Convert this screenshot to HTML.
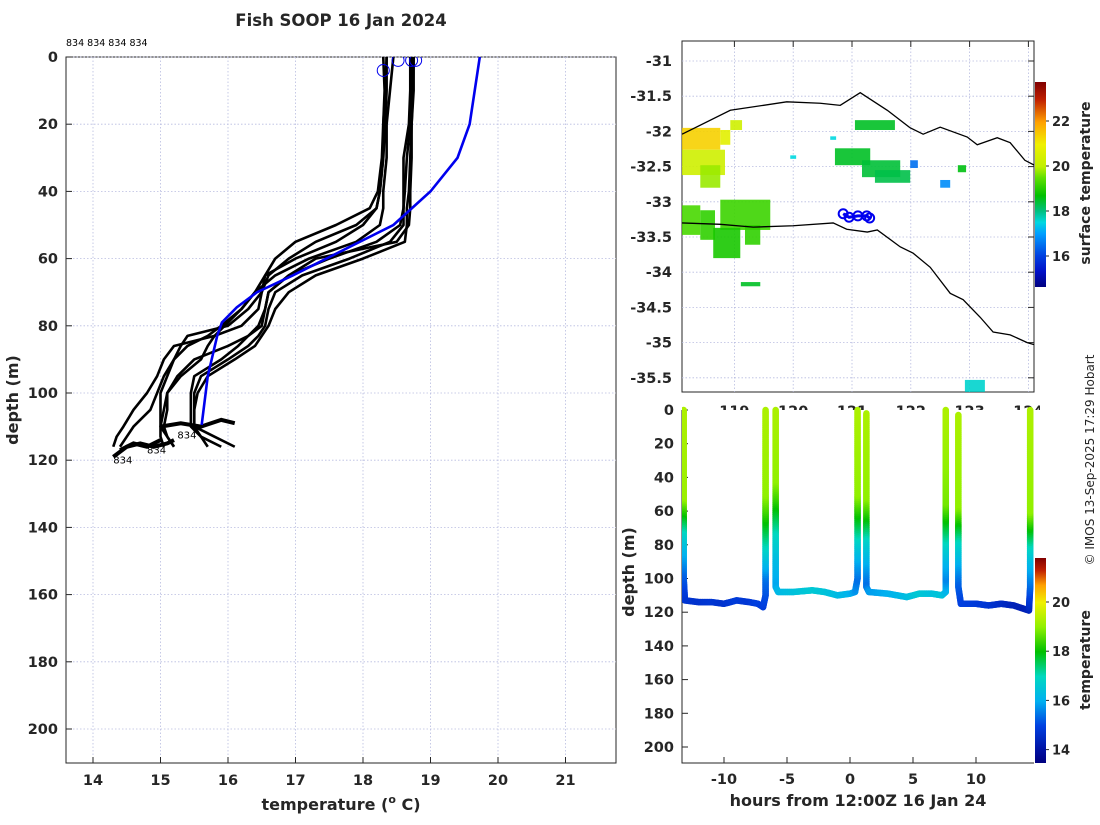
<!DOCTYPE html>
<html><head><meta charset="utf-8"><style>
body{margin:0;background:#fff}
svg text{font-family:"DejaVu Sans","Liberation Sans",sans-serif;fill:#262626}
.tk{font-size:14.5px;font-weight:bold}
</style></head><body>
<svg id="s" width="1100" height="820" viewBox="0 0 1100 820" xmlns="http://www.w3.org/2000/svg">
<defs>
<linearGradient id="cb1" x1="0" y1="1" x2="0" y2="0"></linearGradient>
<linearGradient id="cb2" x1="0" y1="1" x2="0" y2="0"></linearGradient>
<clipPath id="cL"><rect x="66" y="57" width="550" height="706"/></clipPath>
<clipPath id="cM"><rect x="682" y="41" width="352" height="351"/></clipPath>
<clipPath id="cB"><rect x="682" y="405" width="352" height="358"/></clipPath>
<clipPath id="cMl"><rect x="700" y="392" width="340" height="18"/></clipPath>
</defs>
<text x="341" y="26" text-anchor="middle" style="font-size:16.5px;font-weight:bold">Fish SOOP 16 Jan 2024</text>
<text x="66" y="46" style="font-size:9.5px;fill:#000">834 834 834 834</text>
<g id="left"></g><g id="map"></g><g id="bot"></g>
<text transform="translate(18,400) rotate(-90)" text-anchor="middle" style="font-size:16px;font-weight:bold">depth (m)</text>
<text x="341" y="810" text-anchor="middle" style="font-size:16px;font-weight:bold">temperature (<tspan dy="-7" style="font-size:11px">o</tspan><tspan dy="7"> C)</tspan></text>
<text transform="translate(634,572) rotate(-90)" text-anchor="middle" style="font-size:16px;font-weight:bold">depth (m)</text>
<text x="858" y="806" text-anchor="middle" style="font-size:16px;font-weight:bold">hours from 12:00Z 16 Jan 24</text>
<text transform="translate(1090,183) rotate(-90)" text-anchor="middle" style="font-size:14px;font-weight:bold">surface temperature</text>
<text transform="translate(1090,660) rotate(-90)" text-anchor="middle" style="font-size:14px;font-weight:bold">temperature</text>
<text transform="translate(1094,460) rotate(-90)" text-anchor="middle" style="font-size:12px">© IMOS 13-Sep-2025 17:29 Hobart</text>
</svg>
<script>
// ---- left panel data ----
const tempTicks=[14,15,16,17,18,19,20,21];
const depthTicks=[0,20,40,60,80,100,120,140,160,180,200];
const profDepth=[0,10,20,30,40,45,50,55,60,65,70,75,80,83,86,90,95,100,105,110,113,116];
const profTemps=[
[18.3,18.32,18.3,18.28,18.22,18.1,17.6,17.0,16.7,16.55,16.5,16.45,16.2,15.8,15.2,15.05,14.95,14.8,14.6,14.45,14.35,14.3],
[18.35,18.35,18.33,18.3,18.25,18.2,17.9,17.3,16.9,16.6,16.5,16.3,16.0,15.4,15.3,15.2,15.05,14.95,14.85,14.6,14.5,14.4],
[18.45,18.4,18.35,18.35,18.3,18.3,18.25,17.9,17.2,16.7,16.4,16.2,15.95,15.8,15.7,15.6,15.3,15.1,15.05,15.0,15.0,15.05],
[18.7,18.7,18.68,18.6,18.6,18.6,18.55,18.2,17.5,16.9,16.6,16.55,16.5,16.3,16.15,15.9,15.5,15.45,15.45,15.45,15.6,15.9],
[18.72,18.72,18.7,18.65,18.62,18.6,18.6,18.4,17.8,17.1,16.7,16.6,16.55,16.45,16.3,16.0,15.6,15.5,15.5,15.5,15.6,15.7],
[18.75,18.75,18.72,18.72,18.7,18.7,18.68,18.5,17.3,16.9,16.6,16.55,16.45,16.3,16.0,15.5,15.25,15.1,15.1,15.05,15.1,15.2],
[18.35,18.33,18.3,18.3,18.25,18.2,18.0,17.6,17.0,16.55,16.4,16.2,15.9,15.7,15.4,15.2,15.1,15.0,15.0,15.0,15.1,15.2],
[18.75,18.74,18.72,18.7,18.68,18.65,18.65,18.62,18.0,17.3,16.9,16.7,16.6,16.5,16.4,16.1,15.7,15.55,15.5,15.5,15.8,16.1]];
const trailTemps=[[14.3,14.5,14.7,14.9,15.1,15.2],[15.0,15.3,15.6,15.9,16.1],[14.4,14.6,14.8,15.0]];
const trailDepths=[[119,116,115,116,115,114],[110,109,110,108,109],[117,115,116,114]];
const climTemp=[19.73,19.58,19.4,19.0,18.45,16.96,16.43,16.13,15.91,15.84,15.7,15.61];
const climDepth=[0,20,30,40,50,65,70,74.5,79,83,95,109.5];
const startTemps=[18.3,18.52,18.72,18.78];
const startDepths=[4,1,1,1];
// ---- map data ----
const lonTicks=[119,120,121,122,123,124];
const latTicks=[-31,-31.5,-32,-32.5,-33,-33.5,-34,-34.5,-35,-35.5];
const sstTicks=[16,18,20,22];
const coastNLon=[118.11,118.93,119.89,120.46,120.8,121.14,121.6,121.99,122.21,122.5,122.96,123.13,123.47,123.69,123.94,124.1];
const coastNLat=[-32.04,-31.7,-31.58,-31.6,-31.63,-31.45,-31.7,-31.95,-32.04,-31.94,-32.08,-32.19,-32.09,-32.16,-32.41,-32.48];
const coastSLon=[118.11,118.76,119.32,120.0,120.68,120.91,121.26,121.43,121.82,122.04,122.33,122.67,122.89,123.18,123.4,123.69,123.98,124.1];
const coastSLat=[-33.3,-33.32,-33.36,-33.34,-33.3,-33.39,-33.43,-33.4,-33.64,-33.73,-33.93,-34.3,-34.39,-34.64,-34.85,-34.89,-35.0,-35.03];
const sstLon0=[118.11,118.76,118.11,118.42,118.93,118.11,118.42,118.76,118.64,119.18,120.71,121.17,121.39,121.05,121.99,122.5,122.8,122.92,119.11,119.95,120.63];
const sstLon1=[118.76,118.93,118.84,118.76,119.13,118.42,118.67,119.61,119.1,119.44,121.31,121.82,121.99,121.73,122.12,122.67,122.94,123.26,119.44,120.05,120.73];
const sstLat0=[-31.95,-31.98,-32.26,-32.48,-31.84,-33.05,-33.12,-32.97,-33.37,-33.33,-32.24,-32.41,-32.55,-31.84,-32.41,-32.69,-32.48,-35.53,-34.14,-32.34,-32.07];
const sstLat1=[-32.26,-32.19,-32.62,-32.8,-31.98,-33.47,-33.54,-33.4,-33.8,-33.61,-32.48,-32.65,-32.73,-31.98,-32.52,-32.8,-32.58,-35.7,-34.2,-32.39,-32.12];
const sstVal=[21.4,20.7,20.3,19.8,20.3,19.3,19.1,19.2,18.9,19.1,18.5,18.4,18.3,18.5,16.5,16.8,18.6,17.6,18.5,17.5,17.5];
const floatLon=[120.85,120.95,121.1,121.25,121.3];
const floatLat=[-33.17,-33.22,-33.2,-33.2,-33.23];
// ---- bottom panel data ----
const hourTicks=[-10,-5,0,5,10];
const bDepthTicks=[0,20,40,60,80,100,120,140,160,180,200];
const bcbTicks=[14,16,18,20];
const yoTime=[
[-13.2,-13.2,-13.2,-13.2,-13.2,-13.2,-13.1,-12,-11,-10,-9,-8,-7.3,-6.9,-6.7,-6.7,-6.7,-6.7,-6.7,-6.7,-6.7],
[-5.9,-5.9,-5.9,-5.9,-5.9,-5.9,-5.7,-4.5,-3,-2,-1,0,0.4,0.6,0.6,0.6,0.6,0.6,0.6,0.6],
[1.3,1.3,1.3,1.3,1.3,1.3,1.5,3,4.5,5.5,6.5,7.3,7.6,7.6,7.6,7.6,7.6,7.6,7.6],
[8.6,8.6,8.6,8.6,8.6,8.6,8.8,10,11,12,13,13.8,14.2,14.3,14.3,14.3,14.3,14.3,14.3]];
const yoDepth=[
[0,55,62,75,85,100,113,114,114,115,113,114,115,117,110,100,90,80,60,50,0],
[0,45,55,75,90,105,108,108,107,108,110,109,108,100,90,80,70,60,50,0],
[2,55,65,80,95,105,108,109,111,109,109,110,108,100,90,80,65,55,0],
[3,60,70,80,95,105,115,115,116,115,116,118,119,105,90,80,70,60,0]];
const yoTemp=[
[19.3,19.1,18.3,16.9,16.2,15.3,14.8,14.7,14.8,14.7,14.9,14.8,15.0,14.9,15.1,15.4,16.2,17.0,18.4,19.0,19.3],
[19.3,19.0,18.4,17.0,16.3,15.9,16.2,16.4,16.6,16.5,16.3,16.1,15.8,15.4,15.9,16.6,17.4,18.2,19.0,19.3],
[19.3,19.0,18.2,16.8,15.9,15.4,15.8,16.0,16.3,16.6,16.4,16.5,16.2,15.6,16.1,16.8,18.0,18.8,19.3],
[19.3,19.0,18.0,17.0,15.9,15.3,15.0,14.9,14.8,14.6,14.4,14.3,14.4,15.3,16.2,17.0,18.0,19.0,19.3]];

const NS="http://www.w3.org/2000/svg";
function mk(p,tag,at,name,txt){const e=document.createElementNS(NS,tag);for(const k in at)e.setAttribute(k,at[k]);


if(txt!==undefined)e.textContent=txt;p.appendChild(e);return e;}
const sStops=[[14.6,[0,0,127]],[15.3,[0,16,200]],[16,[0,64,224]],[17,[0,160,255]],[17.5,[0,216,224]],[18,[0,192,128]],[18.7,[0,192,0]],[19.5,[96,224,0]],[20,[192,240,0]],[21,[240,240,0]],[22,[255,160,0]],[23,[192,32,0]],[23.8,[128,0,0]]];
const bStops=[[13.5,[0,0,127]],[14,[0,16,160]],[15,[0,64,224]],[16,[0,176,240]],[17,[0,216,192]],[18,[0,192,0]],[19,[144,240,0]],[20,[240,240,0]],[20.7,[255,160,0]],[21.3,[192,32,0]],[21.8,[128,0,0]]];
function cm(st,t){if(t<=st[0][0])return 'rgb('+st[0][1].join(',')+')';for(let i=1;i<st.length;i++){if(t<=st[i][0]){const a=st[i-1],b=st[i],u=(t-a[0])/(b[0]-a[0]);return 'rgb('+a[1].map((v,j)=>Math.round(v+(b[1][j]-v)*u)).join(',')+')';}}return 'rgb(128,0,0)';}
function fillGrad(id,st){const g=document.getElementById(id);const lo=st[0][0],hi=st[st.length-1][0];st.forEach(s=>{const e=document.createElementNS(NS,'stop');e.setAttribute('offset',(s[0]-lo)/(hi-lo));e.setAttribute('stop-color','rgb('+s[1].join(',')+')');g.appendChild(e);});}
fillGrad('cb1',sStops);fillGrad('cb2',bStops);
const grid={stroke:'#b8bce0','stroke-width':0.8,'stroke-dasharray':'1.5,2'};

// ---------- LEFT ----------
const L=document.getElementById('left');
const xT=t=>93+(t-14)*67.5, yD=d=>57+d*3.36;
mk(L,'rect',{x:66,y:57,width:550,height:706,fill:'#fff',stroke:'#262626','stroke-width':1},'left-plot-area');
tempTicks.forEach(t=>{mk(L,'line',Object.assign({x1:xT(t),x2:xT(t),y1:57,y2:763},grid),'x-gridline');
mk(L,'line',{x1:xT(t),x2:xT(t),y1:763,y2:757,stroke:'#262626'},'x-tick');
mk(L,'text',{x:xT(t),y:785,'text-anchor':'middle',class:'tk'},'x-tick-label',String(t));});
depthTicks.forEach(d=>{mk(L,'line',Object.assign({x1:66,x2:616,y1:yD(d),y2:yD(d)},grid),'y-gridline');
mk(L,'line',{x1:66,x2:72,y1:yD(d),y2:yD(d),stroke:'#262626'},'y-tick');
mk(L,'text',{x:58,y:yD(d)+5,'text-anchor':'end',class:'tk'},'y-tick-label',String(d));});
const LG=mk(L,'g',{'clip-path':'url(#cL)'},'profiles');
profTemps.forEach((pt,i)=>{mk(LG,'polyline',{points:pt.map((t,j)=>xT(t)+','+yD(profDepth[j])).join(' '),fill:'none',stroke:'#000','stroke-width':2.6,'stroke-linejoin':'round'},'profile-line-'+(i+1));});
trailTemps.forEach((tt,i)=>{mk(LG,'polyline',{points:tt.map((t,j)=>xT(t)+','+yD(trailDepths[i][j])).join(' '),fill:'none',stroke:'#000','stroke-width':4},'bottom-trail');});
mk(LG,'polyline',{points:climTemp.map((t,j)=>xT(t)+','+yD(climDepth[j])).join(' '),fill:'none',stroke:'#0000ee','stroke-width':2.6},'climatology-line');
startTemps.forEach((t,i)=>mk(LG,'circle',{cx:xT(t),cy:yD(startDepths[i]),r:6,fill:'none',stroke:'#0000ee','stroke-width':1},'profile-start-marker'));
[[14.3,121],[14.8,118],[15.25,113.5]].forEach(p=>mk(LG,'text',{x:xT(p[0]),y:yD(p[1]),style:'font-size:10px;fill:#000'},'profile-label','834'));

// ---------- MAP ----------
const M=document.getElementById('map');
const xL=l=>852+(l-121)*58.8, yL=a=>61+(-31-a)*70.4;
mk(M,'rect',{x:682,y:41,width:352,height:351,fill:'#fff',stroke:'#262626'},'map-area');
lonTicks.forEach(l=>{mk(M,'line',Object.assign({x1:xL(l),x2:xL(l),y1:41,y2:392},grid),'lon-gridline');
mk(M,'line',{x1:xL(l),x2:xL(l),y1:41,y2:47,stroke:'#262626'},'lon-tick');});
const ML=mk(M,'g',{'clip-path':'url(#cMl)'},'lon-labels');
lonTicks.forEach(l=>mk(ML,'text',{x:xL(l),y:416,'text-anchor':'middle',class:'tk'},'lon-tick-label',String(l)));
latTicks.forEach(a=>{mk(M,'line',Object.assign({x1:682,x2:1034,y1:yL(a),y2:yL(a)},grid),'lat-gridline');
mk(M,'line',{x1:1028,x2:1034,y1:yL(a),y2:yL(a),stroke:'#262626'},'lat-tick');
mk(M,'text',{x:672,y:yL(a)+5,'text-anchor':'end',class:'tk'},'lat-tick-label',String(a));});
const MG=mk(M,'g',{'clip-path':'url(#cM)'},'map-content');
sstVal.forEach((v,i)=>mk(MG,'rect',{x:xL(sstLon0[i]),y:yL(sstLat0[i]),width:xL(sstLon1[i])-xL(sstLon0[i]),height:yL(sstLat1[i])-yL(sstLat0[i]),fill:cm(sStops,v),opacity:0.9},'sst-patch'));
mk(MG,'polyline',{points:coastNLon.map((l,i)=>xL(l)+','+yL(coastNLat[i])).join(' '),fill:'none',stroke:'#000','stroke-width':1.3},'coastline-north');
mk(MG,'polyline',{points:coastSLon.map((l,i)=>xL(l)+','+yL(coastSLat[i])).join(' '),fill:'none',stroke:'#000','stroke-width':1.3},'coastline-south');
floatLon.forEach((l,i)=>mk(MG,'circle',{cx:xL(l),cy:yL(floatLat[i]),r:4.5,fill:'none',stroke:'#0000ee','stroke-width':2},'float-position'));
mk(MG,'polyline',{points:floatLon.map((l,i)=>xL(l)+','+yL(floatLat[i])).join(' '),fill:'none',stroke:'#0000ee','stroke-width':3},'float-track');
const ycb1=t=>166-(t-20)*22.5;
mk(M,'rect',{x:1035,y:82,width:11,height:205,fill:'url(#cb1)'},'surface-colorbar');
sstTicks.forEach(t=>{mk(M,'line',{x1:1046,x2:1049,y1:ycb1(t),y2:ycb1(t),stroke:'#262626'},'colorbar-tick');
mk(M,'text',{x:1052,y:ycb1(t)+5,class:'tk',style:'font-size:13px'},'colorbar-tick-label',String(t));});

// ---------- BOTTOM ----------
const B=document.getElementById('bot');
const xH=h=>850+h*12.6, yB=d=>410+d*1.685;
mk(B,'rect',{x:682,y:410,width:352,height:353,fill:'#fff'},'bottom-plot-area');
mk(B,'polyline',{points:'682,410 682,763 1034,763',fill:'none',stroke:'#262626'},'bottom-axes');
hourTicks.forEach(h=>{mk(B,'line',{x1:xH(h),x2:xH(h),y1:763,y2:757,stroke:'#262626'},'hour-tick');
mk(B,'text',{x:xH(h),y:784,'text-anchor':'middle',class:'tk'},'hour-tick-label',String(h));});
bDepthTicks.forEach(d=>{mk(B,'line',{x1:682,x2:688,y1:yB(d),y2:yB(d),stroke:'#262626'},'depth-tick');
mk(B,'text',{x:674,y:yB(d)+5,'text-anchor':'end',class:'tk'},'depth-tick-label',String(d));});
const BG=mk(B,'g',{'clip-path':'url(#cB)'},'yo-dots');
yoTime.forEach((tt,i)=>{for(let j=1;j<tt.length;j++){
 const x0=xH(tt[j-1]),y0=yB(yoDepth[i][j-1]),x1=xH(tt[j]),y1=yB(yoDepth[i][j]);
 const n=Math.max(1,Math.ceil(Math.hypot(x1-x0,y1-y0)/2));
 for(let k=0;k<n;k++){const u=k/n,v=(k+1)/n;const tm=yoTemp[i][j-1]+(yoTemp[i][j]-yoTemp[i][j-1])*(u+v)/2;
  mk(BG,'line',{x1:x0+(x1-x0)*u,y1:y0+(y1-y0)*u,x2:x0+(x1-x0)*v,y2:y0+(y1-y0)*v,stroke:cm(bStops,tm),'stroke-width':6.5,'stroke-linecap':'round'},'yo-segment');}
}});
const ycb2=t=>602-(t-20)*24.6;
mk(B,'rect',{x:1035,y:558,width:11,height:205,fill:'url(#cb2)'},'temperature-colorbar');
bcbTicks.forEach(t=>{mk(B,'line',{x1:1046,x2:1049,y1:ycb2(t),y2:ycb2(t),stroke:'#262626'},'colorbar-tick');
mk(B,'text',{x:1052,y:ycb2(t)+5,class:'tk',style:'font-size:13px'},'colorbar-tick-label',String(t));});
</script>
</body></html>
